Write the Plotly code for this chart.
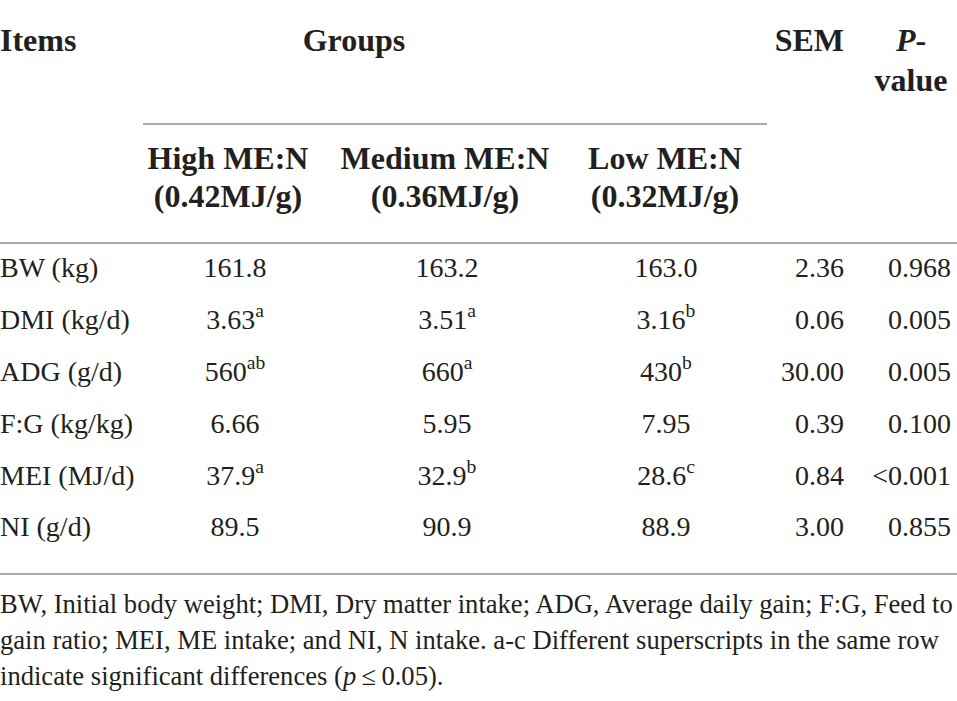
import plotly.graph_objects as go

# table content
items = ["BW (kg)", "DMI (kg/d)", "ADG (g/d)", "F:G (kg/kg)", "MEI (MJ/d)", "NI (g/d)"]
high = ["161.8", "3.63", "560", "6.66", "37.9", "89.5"]
high_sup = ["", "a", "ab", "", "a", ""]
medium = ["163.2", "3.51", "660", "5.95", "32.9", "90.9"]
medium_sup = ["", "a", "a", "", "b", ""]
low = ["163.0", "3.16", "430", "7.95", "28.6", "88.9"]
low_sup = ["", "b", "b", "", "c", ""]
sem = ["2.36", "0.06", "30.00", "0.39", "0.84", "3.00"]
pval = ["0.968", "0.005", "0.005", "0.100", "<0.001", "0.855"]

group_names = ["High ME:N", "Medium ME:N", "Low ME:N"]
group_ratios = ["(0.42MJ/g)", "(0.36MJ/g)", "(0.32MJ/g)"]

footnote = [
    "BW, Initial body weight; DMI, Dry matter intake; ADG, Average daily gain; F:G, Feed to",
    "gain ratio; MEI, ME intake; and NI, N intake. a-c Different superscripts in the same row",
    "indicate significant differences (<i>p</i>\u2009≤\u20090.05).",
]

W, H = 957, 701
INK = "#231f20"
RULE = "#8c8c8c"
SERIF = "Liberation Serif"

row_y = [270, 322, 374, 426, 478, 529]
col_x = {"items": 0, "high": 235, "medium": 447, "low": 666, "sem": 844, "pval": 951}


def with_sup(vals, sups):
    return [v + (f"<sup>{s}</sup>" if s else "") for v, s in zip(vals, sups)]


def text_trace(x, y, text, pos, size, bold=False):
    if bold:
        text = [f"<b>{t}</b>" for t in text]
    return go.Scatter(
        x=x, y=y, text=text, mode="text", textposition=pos,
        textfont=dict(family=SERIF, size=size, color=INK),
        hoverinfo="skip", showlegend=False,
    )


fig = go.Figure()

# header, first line
fig.add_trace(text_trace([col_x["items"]], [43], ["Items"], "middle right", 32, bold=True))
fig.add_trace(text_trace([354, 911], [43, 43], ["Groups", "<i>P</i>-"], "middle center", 32, bold=True))
fig.add_trace(text_trace([844], [43], ["SEM"], "middle left", 32, bold=True))
fig.add_trace(text_trace([911], [83], ["value"], "middle center", 32, bold=True))

# header, group names
gx = [228, 445, 665]
fig.add_trace(text_trace(gx, [161] * 3, group_names, "middle center", 32, bold=True))
fig.add_trace(text_trace(gx, [199] * 3, group_ratios, "middle center", 32, bold=True))

# body
fig.add_trace(text_trace([col_x["items"]] * 6, row_y, items, "middle right", 28))
fig.add_trace(text_trace([col_x["high"]] * 6, row_y, with_sup(high, high_sup), "middle center", 28))
fig.add_trace(text_trace([col_x["medium"]] * 6, row_y, with_sup(medium, medium_sup), "middle center", 28))
fig.add_trace(text_trace([col_x["low"]] * 6, row_y, with_sup(low, low_sup), "middle center", 28))
fig.add_trace(text_trace([col_x["sem"]] * 6, row_y, sem, "middle left", 28))
fig.add_trace(text_trace([col_x["pval"]] * 6, row_y, pval, "middle left", 28))

# footnote
fig.add_trace(text_trace([0] * 3, [606, 642, 678], footnote, "middle right", 26.6))

# rules
fig.add_shape(type="line", x0=143, x1=767, y0=124, y1=124, line=dict(color=RULE, width=1.5))
fig.add_shape(type="line", x0=0, x1=W, y0=243, y1=243, line=dict(color=RULE, width=1.5))
fig.add_shape(type="line", x0=0, x1=W, y0=574, y1=574, line=dict(color=RULE, width=1.5))

fig.update_xaxes(range=[0, W], visible=False, fixedrange=True)
fig.update_yaxes(range=[H, 0], visible=False, fixedrange=True)
fig.update_layout(
    width=W, height=H,
    margin=dict(l=0, r=0, t=0, b=0),
    paper_bgcolor="white", plot_bgcolor="white",
)

# drop the browser's default body margin so the figure sits at the page corner
fig.write_html(
    "out.html",
    config={"displayModeBar": False},
    post_script="document.body.style.margin='0';document.body.style.overflow='hidden';",
)
